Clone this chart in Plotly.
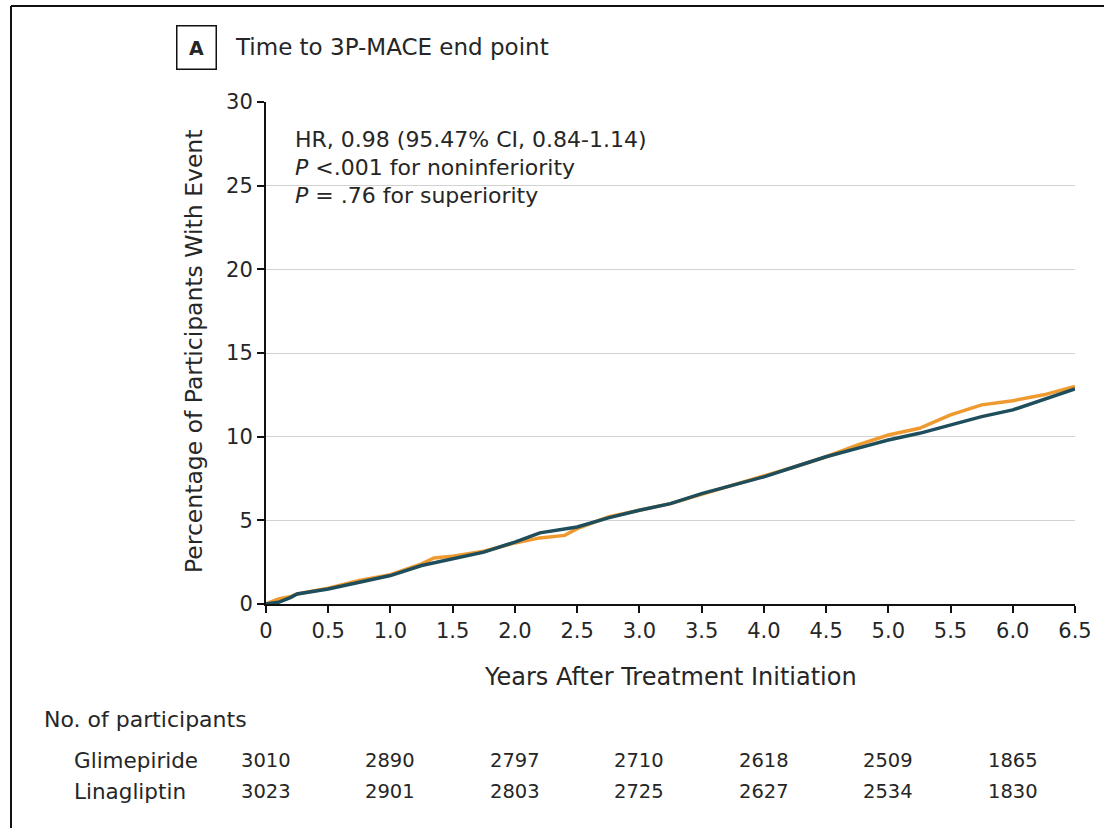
import plotly.graph_objects as go

# Kaplan-Meier style cumulative incidence (percent) by years after treatment initiation
glim_years = [0, 0.1, 0.2, 0.25, 0.5, 0.75, 1.0, 1.25, 1.35, 1.5, 1.75, 2.0, 2.2, 2.4, 2.5,
              2.75, 3.0, 3.25, 3.5, 3.75, 4.0, 4.25, 4.5, 4.75, 5.0, 5.25, 5.5, 5.75, 6.0, 6.25, 6.5]
glim_pct = [0, 0.3, 0.45, 0.6, 0.95, 1.4, 1.75, 2.4, 2.75, 2.85, 3.15, 3.65, 3.95, 4.1, 4.5,
            5.2, 5.6, 6.0, 6.55, 7.1, 7.6, 8.2, 8.8, 9.5, 10.1, 10.5, 11.3, 11.9, 12.15, 12.5, 13.0]

lina_years = [0, 0.1, 0.2, 0.25, 0.5, 0.75, 1.0, 1.25, 1.5, 1.75, 2.0, 2.2, 2.5, 2.75, 3.0,
              3.25, 3.5, 3.75, 4.0, 4.25, 4.5, 4.75, 5.0, 5.25, 5.5, 5.75, 6.0, 6.25, 6.5]
lina_pct = [0, 0.1, 0.4, 0.6, 0.9, 1.3, 1.7, 2.3, 2.7, 3.1, 3.7, 4.25, 4.6, 5.15, 5.6,
            6.0, 6.6, 7.1, 7.6, 8.2, 8.8, 9.3, 9.8, 10.2, 10.7, 11.2, 11.6, 12.2, 12.85]

# Number at risk table
risk_years = [0, 1, 2, 3, 4, 5, 6]
glim_at_risk = [3010, 2890, 2797, 2710, 2618, 2509, 1865]
lina_at_risk = [3023, 2901, 2803, 2725, 2627, 2534, 1830]

x_ticks = [0, 0.5, 1.0, 1.5, 2.0, 2.5, 3.0, 3.5, 4.0, 4.5, 5.0, 5.5, 6.0, 6.5]
x_tick_text = ["0", "0.5", "1.0", "1.5", "2.0", "2.5", "3.0", "3.5", "4.0", "4.5", "5.0", "5.5", "6.0", "6.5"]
y_ticks = [0, 5, 10, 15, 20, 25, 30]

ORANGE = "#EE9A2E"
TEAL = "#1E4D5C"
TEXT = "#262626"
FONT = "DejaVu Sans, sans-serif"

W, H = 1104, 828
L, R, T, B = 266, 1075, 102, 604


def px(xp):
    return (xp - L) / (R - L)


def py(yp):
    return (B - yp) / (B - T)


fig = go.Figure()
fig.add_trace(go.Scatter(x=glim_years, y=glim_pct, mode="lines", name="Glimepiride",
                         line=dict(color=ORANGE, width=3.5)))
fig.add_trace(go.Scatter(x=lina_years, y=lina_pct, mode="lines", name="Linagliptin",
                         line=dict(color=TEAL, width=3.5)))

ann = []
# panel label and title
ann.append(dict(x=px(196), y=py(47), xref="paper", yref="paper", text="<b>A</b>",
                showarrow=False, font=dict(size=19, color=TEXT, family=FONT),
                bordercolor="#111111", borderwidth=1.5, borderpad=10, width=18,
                xanchor="center", yanchor="middle"))
ann.append(dict(x=px(233), y=py(47), xref="paper", yref="paper", text="Time to 3P-MACE end point",
                showarrow=False, font=dict(size=23, color=TEXT, family=FONT), xanchor="left", yanchor="middle"))

# statistics
stats = ["HR, 0.98 (95.47% CI, 0.84-1.14)",
         "<i>P</i> <.001 for noninferiority",
         "<i>P</i> = .76 for superiority"]
for i, s in enumerate(stats):
    ann.append(dict(x=px(293), y=py(139 + i * 28.5), xref="paper", yref="paper", text=s,
                    showarrow=False, font=dict(size=22, color=TEXT, family=FONT),
                    xanchor="left", yanchor="middle"))

# axis titles
ann.append(dict(x=px(194), y=py(352), xref="paper", yref="paper",
                text="Percentage of Participants With Event", textangle=-90, showarrow=False,
                font=dict(size=23.5, color=TEXT, family=FONT), xanchor="center", yanchor="middle"))
ann.append(dict(x=px(670), y=py(677), xref="paper", yref="paper",
                text="Years After Treatment Initiation", showarrow=False,
                font=dict(size=24, color=TEXT, family=FONT), xanchor="center", yanchor="middle"))

# at-risk table
ann.append(dict(x=px(42), y=py(719), xref="paper", yref="paper", text="No. of participants",
                showarrow=False, font=dict(size=22, color=TEXT, family=FONT),
                xanchor="left", yanchor="middle"))
for label, vals, yy in [("Glimepiride", glim_at_risk, 760), ("Linagliptin", lina_at_risk, 791)]:
    ann.append(dict(x=px(72), y=py(yy), xref="paper", yref="paper", text=label,
                    showarrow=False, font=dict(size=21.5, color=TEXT, family=FONT),
                    xanchor="left", yanchor="middle"))
    for t, v in zip(risk_years, vals):
        ann.append(dict(x=t, y=py(yy), xref="x", yref="paper", text=str(v),
                        showarrow=False, font=dict(size=19.5, color=TEXT, family=FONT),
                        xanchor="center", yanchor="middle"))

shapes = [
    # outer frame (left and top edges)
    dict(type="line", xref="paper", yref="paper", x0=px(11), x1=px(11), y0=py(6), y1=py(840),
         line=dict(color="#111111", width=2)),
    dict(type="line", xref="paper", yref="paper", x0=px(11), x1=px(1110), y0=py(6), y1=py(6),
         line=dict(color="#111111", width=2)),
]

fig.update_layout(
    width=W, height=H, autosize=False,
    margin=dict(l=L, r=W - R, t=T, b=H - B),
    paper_bgcolor="white", plot_bgcolor="white",
    showlegend=False,
    annotations=ann, shapes=shapes,
    font=dict(family=FONT, color=TEXT),
)
fig.update_xaxes(range=[0, 6.5], tickvals=x_ticks, ticktext=x_tick_text,
                 showgrid=False, zeroline=False, showline=True, linecolor="#111111", linewidth=2,
                 ticks="outside", ticklen=7, tickwidth=2, tickcolor="#111111",
                 tickfont=dict(size=21, color=TEXT, family=FONT))
fig.update_yaxes(range=[0, 30], tickvals=y_ticks, showgrid=True, gridcolor="#d2d2d2", gridwidth=1,
                 zeroline=False, showline=True, linecolor="#111111", linewidth=2,
                 ticks="outside", ticklen=7, tickwidth=2, tickcolor="#111111",
                 tickfont=dict(size=21, color=TEXT, family=FONT))

fig.write_html("out.html")
